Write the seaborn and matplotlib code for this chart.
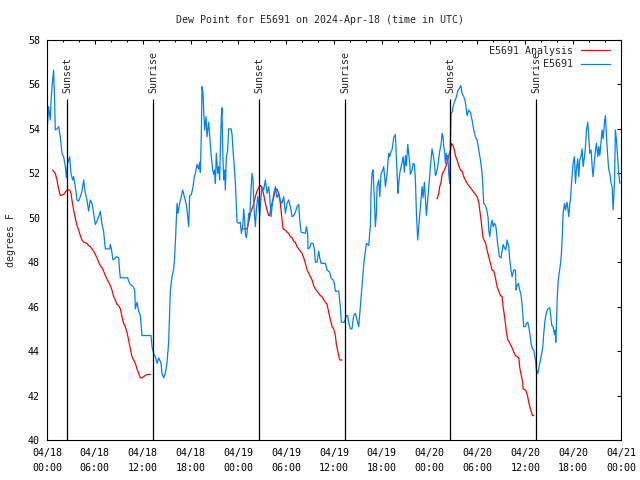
import pandas as pd
import seaborn as sns
import matplotlib.pyplot as plt
import numpy as np

# hours since 04/18 00:00 UTC, dew point in F
blue_hours = [0.0, 0.2, 0.41, 0.54, 0.67, 0.83, 0.96, 1.04, 1.25, 1.46, 1.67, 1.88, 2.09, 2.3, 2.42, 2.59,
              2.84, 3.0, 3.22, 3.34, 3.55, 3.76, 3.97, 4.18, 4.39, 4.6, 4.81, 5.02, 5.22, 5.43, 5.64, 5.85,
              6.06, 6.27, 6.48, 6.69, 6.9, 7.1, 7.31, 7.86, 7.94, 8.07, 8.28, 8.44, 8.7, 8.99, 9.11, 9.2,
              10.12, 10.24, 10.45, 10.79, 11.0, 11.08, 11.29, 11.5, 11.71, 11.92, 13.05, 13.17, 13.38, 13.59,
              13.8, 14.01, 14.13, 14.3, 14.43, 14.63, 14.84, 15.05, 15.26, 15.47, 15.68, 15.89, 16.01, 16.14,
              16.31, 16.43, 16.64, 16.81, 17.02, 17.23, 17.44, 17.56, 17.77, 17.9, 18.11, 18.32, 18.48, 18.61,
              18.82, 19.03, 19.15, 19.24, 19.36, 19.44, 19.57, 19.65, 19.78, 19.95, 20.07, 20.28, 20.41, 20.57,
              20.78, 20.91, 21.03, 21.12, 21.24, 21.41, 21.53, 21.66, 21.74, 21.87, 21.95, 22.04, 22.16, 22.29,
              22.37, 22.5, 22.66, 22.79, 23.1, 23.21, 23.33, 23.5, 23.63, 23.84, 24.04, 24.25, 24.38, 24.55,
              24.67, 24.8, 24.88, 25.01, 25.17, 25.3, 25.43, 25.59, 25.72, 25.84, 25.93, 26.01, 26.14, 26.26,
              26.43, 26.55, 26.68, 26.85, 26.97, 27.18, 27.39, 27.6, 27.81, 27.94, 28.1, 28.23, 28.44, 28.65,
              28.85, 29.06, 29.27, 29.48, 29.69, 29.9, 30.11, 30.32, 30.53, 30.74, 30.95, 31.15, 31.36, 31.57,
              31.7, 31.87, 32.41, 32.53, 32.7, 32.74, 32.95, 33.12, 33.37, 33.54, 33.66, 33.87, 34.08, 34.21,
              34.38, 34.92, 35.13, 35.46, 35.63, 35.88, 36.05, 36.17, 36.59, 36.8, 36.93, 37.3, 37.55, 37.72,
              37.89, 38.06, 38.26, 38.47, 38.68, 38.89, 39.1, 39.31, 39.44, 39.6, 39.73, 39.94, 40.06, 40.36,
              40.48, 40.56, 40.65, 40.77, 40.9, 41.07, 41.19, 41.32, 41.4, 41.61, 41.74, 41.9, 42.07, 42.24,
              42.45, 42.66, 42.86, 42.99, 43.16, 43.28, 43.49, 43.7, 43.91, 44.04, 44.12, 44.25, 44.41, 44.54,
              44.67, 44.83, 44.96, 45.08, 45.25, 45.37, 45.5, 45.58, 45.79, 45.92, 46.09, 46.21, 46.34, 46.5,
              46.63, 46.84, 47.05, 47.17, 47.34, 47.59, 47.76, 47.93, 48.09, 48.3, 48.43, 48.6, 48.72, 48.85,
              49.01, 49.14, 49.26, 49.43, 49.56, 49.68, 49.77, 49.85, 49.98, 50.1, 50.18, 50.27, 50.39, 50.52,
              50.6, 50.68, 50.81, 50.94, 51.1, 51.36, 51.52, 51.77, 51.9, 52.07, 52.28, 52.48, 52.69, 52.9,
              53.11, 53.32, 53.53, 53.74, 53.95, 54.16, 54.37, 54.58, 54.78, 54.99, 55.2, 55.33, 55.41, 55.54,
              55.71, 55.83, 55.96, 56.12, 56.29, 56.37, 56.54, 56.75, 56.96, 57.21, 57.38, 57.55, 57.71, 57.92,
              58.05, 58.22, 58.34, 58.55, 58.76, 58.84, 58.97, 59.13, 59.3, 59.47, 59.59, 59.8, 60.01, 60.14,
              60.3, 60.43, 60.56, 60.72, 60.89, 61.06, 61.27, 61.39, 61.56, 61.73, 61.89, 62.06, 62.19, 62.31,
              62.48, 62.65, 62.82, 63.07, 63.15, 63.32, 63.48, 63.65, 63.74, 63.82, 63.9, 63.99, 64.11, 64.24,
              64.4, 64.53, 64.65, 64.74, 64.91, 65.03, 65.24, 65.45, 65.58, 65.66, 65.79, 65.99, 66.16, 66.29,
              66.41, 66.58, 66.7, 66.83, 67.0, 67.12, 67.25, 67.42, 67.54, 67.67, 67.83, 67.96, 68.08, 68.25,
              68.38, 68.5, 68.67, 68.8, 68.92, 69.09, 69.21, 69.34, 69.51, 69.63, 69.76, 69.93, 70.05, 70.18,
              70.34, 70.47, 70.6, 70.76, 70.89, 71.01, 71.18, 71.3, 71.43, 71.6, 71.72, 71.85]
blue_dewpt = [53.8, 55.0, 54.4, 55.45, 56.05, 56.65, 55.2, 53.95, 54.0, 54.1, 53.65, 52.9, 52.75, 52.3, 51.8, 52.45,
              52.75, 52.0, 51.7, 51.85, 51.4, 50.8, 50.75, 50.95, 51.2, 51.7, 51.1, 50.8, 50.3, 50.8, 50.65, 50.2,
              49.7, 49.85, 50.05, 50.3, 49.7, 49.4, 48.6, 48.6, 48.8, 48.6, 48.1, 48.15, 48.25, 48.2, 47.6, 47.3,
              47.3, 47.15, 47.0, 46.9, 46.75, 45.9, 46.2, 45.8, 45.6, 44.7, 44.7, 44.2, 43.9, 43.75,
              43.45, 43.7, 43.6, 43.45, 43.0, 42.8, 43.0, 43.45, 44.4, 46.7, 47.35, 47.7, 48.2, 49.2,
              50.65, 50.2, 50.65, 50.9, 51.25, 50.95, 50.65, 50.35, 49.6, 51.0, 51.05, 51.4, 51.85, 52.0,
              52.4, 52.2, 52.5, 52.05, 53.8, 55.9, 55.6, 54.85, 53.95, 54.55, 53.65, 54.3, 53.65, 52.9,
              52.15, 51.95, 52.15, 51.55, 52.9, 52.0, 52.3, 51.7, 53.05, 54.55, 54.95, 53.05, 51.7, 52.15,
              51.25, 52.75, 53.05, 54.0, 54.0, 53.75, 53.05, 52.3, 51.55, 49.8, 49.75, 49.8, 49.3, 49.6,
              50.4, 49.85, 49.3, 49.1, 49.6, 50.2, 50.0, 51.25, 52.0, 51.7, 50.8, 50.2, 49.6, 50.35,
              50.95, 50.65, 50.05, 50.95, 51.4, 51.25, 51.7, 51.1, 51.4, 50.95, 50.05, 50.5, 51.1, 51.4,
              50.9, 51.1, 50.8, 50.65, 50.95, 50.2, 50.65, 50.8, 50.5, 50.05, 50.1, 50.25, 50.5, 50.6,
              49.9, 49.35, 49.3, 49.6, 49.3, 48.6, 48.65, 48.85, 48.85, 48.6, 48.0, 48.0, 48.5, 48.2,
              47.95, 47.95, 47.65, 47.55, 47.3, 47.2, 47.05, 46.7, 46.7, 46.0, 45.3, 45.3, 45.6, 45.6,
              45.2, 45.0, 45.0, 45.6, 45.7, 45.4, 45.1, 46.0, 46.5, 47.3, 47.9, 48.5, 48.85, 48.75,
              49.3, 49.6, 51.2, 52.0, 52.15, 50.8, 49.6, 50.2, 51.4, 51.7, 50.95, 52.0, 52.1, 52.3,
              51.4, 52.0, 52.9, 52.75, 53.0, 53.05, 53.6, 53.75, 52.0, 51.1, 51.55, 52.0, 52.3, 52.5,
              52.75, 52.05, 52.8, 52.35, 53.3, 52.9, 52.45, 51.95, 52.15, 52.45, 52.4, 51.7, 50.2, 49.0,
              49.6, 50.5, 51.4, 50.9, 51.6, 50.1, 50.8, 51.55, 52.3, 53.1, 52.85, 52.45, 51.9, 52.0,
              52.3, 52.65, 53.0, 53.3, 53.8, 53.65, 53.2, 53.05, 52.45, 52.9, 52.6, 52.8, 52.0, 51.55,
              53.35, 54.7, 54.75, 55.0, 55.2, 55.45, 55.7, 55.85, 55.95, 55.6, 55.45, 55.2, 54.6, 54.85,
              54.75, 54.4, 53.95, 53.65, 53.5, 53.05, 52.6, 52.0, 50.65, 50.55, 50.3, 50.0, 49.45, 49.15,
              49.7, 49.9, 49.6, 49.75, 49.65, 49.4, 48.8, 48.25, 48.2, 48.8, 48.65, 48.55, 49.0, 48.7,
              48.1, 47.6, 47.35, 47.65, 47.65, 46.75, 46.95, 47.05, 46.75, 46.5, 46.1, 45.1, 45.1, 45.25,
              45.3, 45.1, 44.8, 44.35, 44.1, 44.05, 43.6, 43.15, 43.0, 43.3, 43.6, 43.9, 44.2, 44.8,
              45.4, 45.75, 45.9, 45.95, 45.7, 45.15, 45.1, 44.75, 44.95, 44.4, 45.1, 46.3, 47.1, 47.5,
              47.9, 48.4, 49.3, 50.2, 50.65, 50.35, 50.7, 50.05, 50.65, 50.8, 51.55, 52.45, 52.75, 51.55,
              52.2, 52.65, 51.85, 52.6, 52.8, 53.1, 52.3, 52.75, 53.2, 53.95, 54.3, 53.65, 52.9, 53.05,
              52.3, 51.85, 52.6, 53.05, 53.35, 52.75, 53.2, 52.8, 53.5, 53.95, 53.55, 54.3, 54.6, 53.65,
              52.75, 52.15, 52.0, 51.55, 51.4, 50.35, 51.55, 53.95, 53.5, 52.6, 52.0, 51.55]

# analysis comes in three separate pieces
red1_hours = [0.71, 1.04, 1.25, 1.46, 1.67, 2.09, 2.51, 2.84, 3.01, 3.13, 3.34, 3.55, 3.76, 3.97, 4.18, 4.39,
              4.6, 5.02, 5.22, 5.43, 5.64, 5.85, 6.06, 6.27, 6.48, 6.69, 6.9, 7.1, 7.31, 7.52, 7.73, 7.94,
              8.15, 8.36, 8.57, 8.78, 8.99, 9.2, 9.41, 9.61, 9.82, 10.03, 10.24, 10.45, 10.66, 10.87, 11.08,
              11.29, 11.5, 11.71, 11.92, 12.12, 12.54, 12.96]
red1_dewpt = [52.15, 52.0, 51.7, 51.3, 51.0, 51.05, 51.25, 51.25, 51.1, 50.8, 50.35, 50.0, 49.65, 49.45, 49.2, 49.0,
              48.9, 48.85, 48.75, 48.7, 48.6, 48.5, 48.35, 48.2, 48.0, 47.85, 47.75, 47.6, 47.4, 47.25, 47.1, 46.95,
              46.75, 46.45, 46.3, 46.1, 46.05, 45.9, 45.55, 45.25, 45.1, 44.85, 44.5, 44.1, 43.75, 43.6, 43.45,
              43.2, 43.0, 42.8, 42.8, 42.85, 42.95, 42.95]
red2_hours = [24.59, 25.09, 25.3, 25.51, 25.72, 25.93, 26.14, 26.34, 26.55, 26.76, 26.97, 27.18, 27.39, 27.6,
              27.81, 27.94, 28.1, 28.35, 28.52, 28.69, 28.85, 29.06, 29.27, 29.48, 29.61, 29.9, 30.11, 30.32,
              30.53, 30.74, 30.95, 31.15, 31.36, 31.57, 31.78, 31.99, 32.2, 32.41, 32.62, 32.83, 33.04, 33.25,
              33.45, 33.66, 33.87, 34.08, 34.29, 34.5, 34.71, 34.92, 35.13, 35.34, 35.55, 35.76, 35.96, 36.17,
              36.3, 36.47, 36.59, 36.72, 37.01]
red2_dewpt = [49.5, 49.5, 49.8, 50.2, 50.4, 50.65, 50.95, 51.2, 51.35, 51.45, 51.35, 51.05, 50.65, 50.35,
              50.1, 50.1, 50.5, 50.8, 51.05, 51.25, 51.3, 51.1, 50.65, 49.9, 49.5, 49.45, 49.35, 49.3,
              49.15, 49.1, 48.95, 48.9, 48.7, 48.6, 48.5, 48.4, 48.2, 47.95, 47.65, 47.5, 47.35, 47.2,
              46.95, 46.8, 46.7, 46.6, 46.5, 46.45, 46.3, 46.2, 46.1, 45.75, 45.4, 45.1, 45.0, 44.7,
              44.3, 44.0, 43.8, 43.6, 43.6]
red3_hours = [48.93, 49.14, 49.26, 49.43, 49.56, 49.77, 49.98, 50.18, 50.39, 50.6, 50.73, 50.94, 51.1, 51.23,
              51.44, 51.65, 51.86, 52.07, 52.28, 52.48, 52.69, 52.9, 53.11, 53.32, 53.53, 53.74, 53.95, 54.16,
              54.28, 54.45, 54.58, 54.7, 54.87, 54.99, 55.2, 55.41, 55.62, 55.83, 56.04, 56.25, 56.46, 56.67,
              56.88, 57.09, 57.21, 57.38, 57.5, 57.63, 57.8, 57.92, 58.13, 58.34, 58.55, 58.76, 58.97, 59.18,
              59.3, 59.47, 59.64, 59.72, 60.01, 60.14, 60.3, 60.43, 60.56, 60.72, 60.89, 61.06]
red3_dewpt = [50.85, 51.1, 51.4, 51.6, 51.95, 52.1, 52.25, 52.5, 52.8, 53.0, 53.35, 53.25, 53.05, 52.8,
              52.6, 52.35, 52.15, 52.1, 51.85, 51.7, 51.55, 51.45, 51.35, 51.25, 51.15, 51.05, 50.95, 50.7,
              50.35, 49.9, 49.45, 49.1, 48.95, 48.9, 48.55, 48.25, 47.95, 47.65, 47.6, 47.3, 46.9, 46.7,
              46.5, 46.45, 46.0, 45.6, 45.25, 44.85, 44.5, 44.45, 44.3, 44.15, 43.95, 43.8, 43.75, 43.7,
              43.25, 42.95, 42.65, 42.3, 42.25, 42.15, 41.95, 41.7, 41.5, 41.3, 41.1, 41.1]

sun_hours = [2.56, 13.35, 26.65, 37.4, 50.6, 61.4]
sun_labels = ['Sunset', 'Sunrise', 'Sunset', 'Sunrise', 'Sunset', 'Sunrise']

xtick_hours = [0, 6, 12, 18, 24, 30, 36, 42, 48, 54, 60, 66, 72]
xtick_labels = ['04/18\n00:00', '04/18\n06:00', '04/18\n12:00', '04/18\n18:00',
                '04/19\n00:00', '04/19\n06:00', '04/19\n12:00', '04/19\n18:00',
                '04/20\n00:00', '04/20\n06:00', '04/20\n12:00', '04/20\n18:00', '04/21\n00:00']

frames = [pd.DataFrame({'hours': red1_hours, 'dewpt': red1_dewpt, 'series': 'E5691 Analysis', 'seg': 1}),
          pd.DataFrame({'hours': red2_hours, 'dewpt': red2_dewpt, 'series': 'E5691 Analysis', 'seg': 2}),
          pd.DataFrame({'hours': red3_hours, 'dewpt': red3_dewpt, 'series': 'E5691 Analysis', 'seg': 3}),
          pd.DataFrame({'hours': blue_hours, 'dewpt': blue_dewpt, 'series': 'E5691', 'seg': 4})]
df = pd.concat(frames, ignore_index=True)

sns.set_style('white')
plt.rcParams['font.family'] = ['DejaVu Sans Mono']
plt.rcParams['font.size'] = 7.2

fig = plt.figure(figsize=(6.4, 4.8), dpi=100)
ax = fig.add_axes([47 / 640, 40 / 480, 574 / 640, 400 / 480])

sns.lineplot(data=df, x='hours', y='dewpt', hue='series', units='seg', estimator=None, sort=False,
             hue_order=['E5691 Analysis', 'E5691'],
             palette={'E5691 Analysis': '#ff0000', 'E5691': '#0080ff'},
             linewidth=0.9, ax=ax)

# sunrise / sunset markers
for h, lab in zip(sun_hours, sun_labels):
    ax.vlines(h, 40, 55.35, color='black', lw=0.9)
    ax.text(h, 55.62, lab, rotation=90, ha='center', va='bottom', fontsize=7.2)

ax.set_xlim(0, 72)
ax.set_ylim(40, 58)
ax.set_xticks(xtick_hours)
ax.set_xticklabels(xtick_labels, linespacing=1.6)
ax.set_xticks(np.arange(0, 73, 2), minor=True)
ax.set_yticks(np.arange(40, 59, 2))
ax.set_xlabel('')
ax.set_ylabel('degrees F', fontsize=7.2)
ax.yaxis.set_label_coords(-31 / 574, 0.5)

ax.tick_params(which='both', direction='in', top=True, right=True, width=0.75, colors='black',
               labelsize=7.2)
ax.tick_params(which='major', length=2.9, pad=5)
ax.tick_params(axis='x', which='major', pad=6)
ax.tick_params(which='minor', length=1.45)
for s in ax.spines.values():
    s.set_color('black')
    s.set_linewidth(0.8)

handles, labels = ax.get_legend_handles_labels()
labels = [l.rjust(14) for l in labels]
ax.legend(handles, labels, loc='upper right', bbox_to_anchor=(1 - 11 / 574, 1 - 6 / 400),
          frameon=False, markerfirst=False, borderpad=0, borderaxespad=0,
          handlelength=2.9, handletextpad=0.8, labelspacing=0.35, fontsize=7.2)

fig.text(0.5, 1 - 20 / 480, 'Dew Point for E5691 on 2024-Apr-18 (time in UTC)',
         ha='center', va='center', fontsize=7.2)

fig.savefig('out.png', dpi=100)
